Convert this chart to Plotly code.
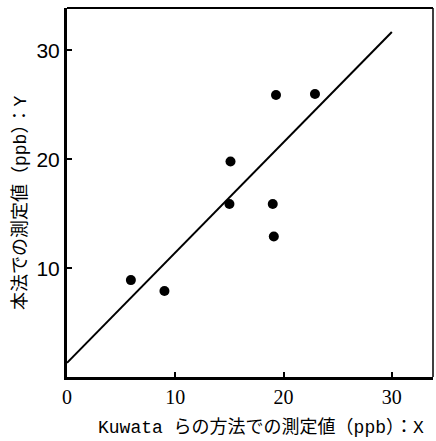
import plotly.graph_objects as go

# Data
x_vals = [5.9, 9.0, 15.0, 15.1, 19.0, 19.1, 19.3, 22.9]
y_vals = [8.9, 7.9, 15.9, 19.8, 15.9, 12.9, 25.9, 26.0]
line_x = [0, 30]
line_y = [1.3, 31.7]
x_ticks = [0, 10, 20, 30]
y_ticks = [10, 20, 30]
x_title = "Kuwata らの方法での測定値（ppb）：X"
y_title = "本法での測定値（ppb）：Y"

title_font = "Liberation Mono, Noto Sans CJK JP"

fig = go.Figure()
fig.add_trace(go.Scatter(x=line_x, y=line_y, mode="lines",
                         line=dict(color="black", width=2), showlegend=False))
fig.add_trace(go.Scatter(x=x_vals, y=y_vals, mode="markers",
                         marker=dict(color="black", size=10), showlegend=False))

fig.update_layout(
    width=436, height=441,
    margin=dict(l=67, r=3, t=8, b=64),
    paper_bgcolor="white", plot_bgcolor="white",
    xaxis=dict(range=[0, 33.8], tickvals=x_ticks, ticks="inside", ticklen=5, tickwidth=2,
               tickcolor="black", showline=True, linewidth=3, linecolor="black",
               showgrid=False, zeroline=False,
               tickfont=dict(family="Liberation Serif", size=20, color="black")),
    yaxis=dict(range=[0, 33.9], tickvals=y_ticks, ticks="inside", ticklen=5, tickwidth=2,
               tickcolor="black", showline=True, linewidth=3, linecolor="black",
               showgrid=False, zeroline=False,
               tickfont=dict(family="Liberation Sans", size=21, color="black")),
    shapes=[
        dict(type="line", xref="paper", yref="paper", x0=0, x1=1, y0=1, y1=1,
             line=dict(color="black", width=2)),
        dict(type="line", xref="paper", yref="paper", x0=1, x1=1, y0=0, y1=1,
             line=dict(color="black", width=1.5)),
    ],
    annotations=[
        dict(text=x_title, xref="paper", yref="paper",
             x=(261 - 67) / 366, y=-(427 - 377) / 369,
             xanchor="center", yanchor="middle", showarrow=False,
             font=dict(family=title_font, size=18, color="black")),
        dict(text=y_title, xref="paper", yref="paper",
             x=-(67 - 20) / 366, y=(377 - 203) / 369,
             xanchor="center", yanchor="middle", showarrow=False, textangle=-90,
             font=dict(family=title_font, size=18, color="black")),
    ],
)

fig.write_html("out.html")
